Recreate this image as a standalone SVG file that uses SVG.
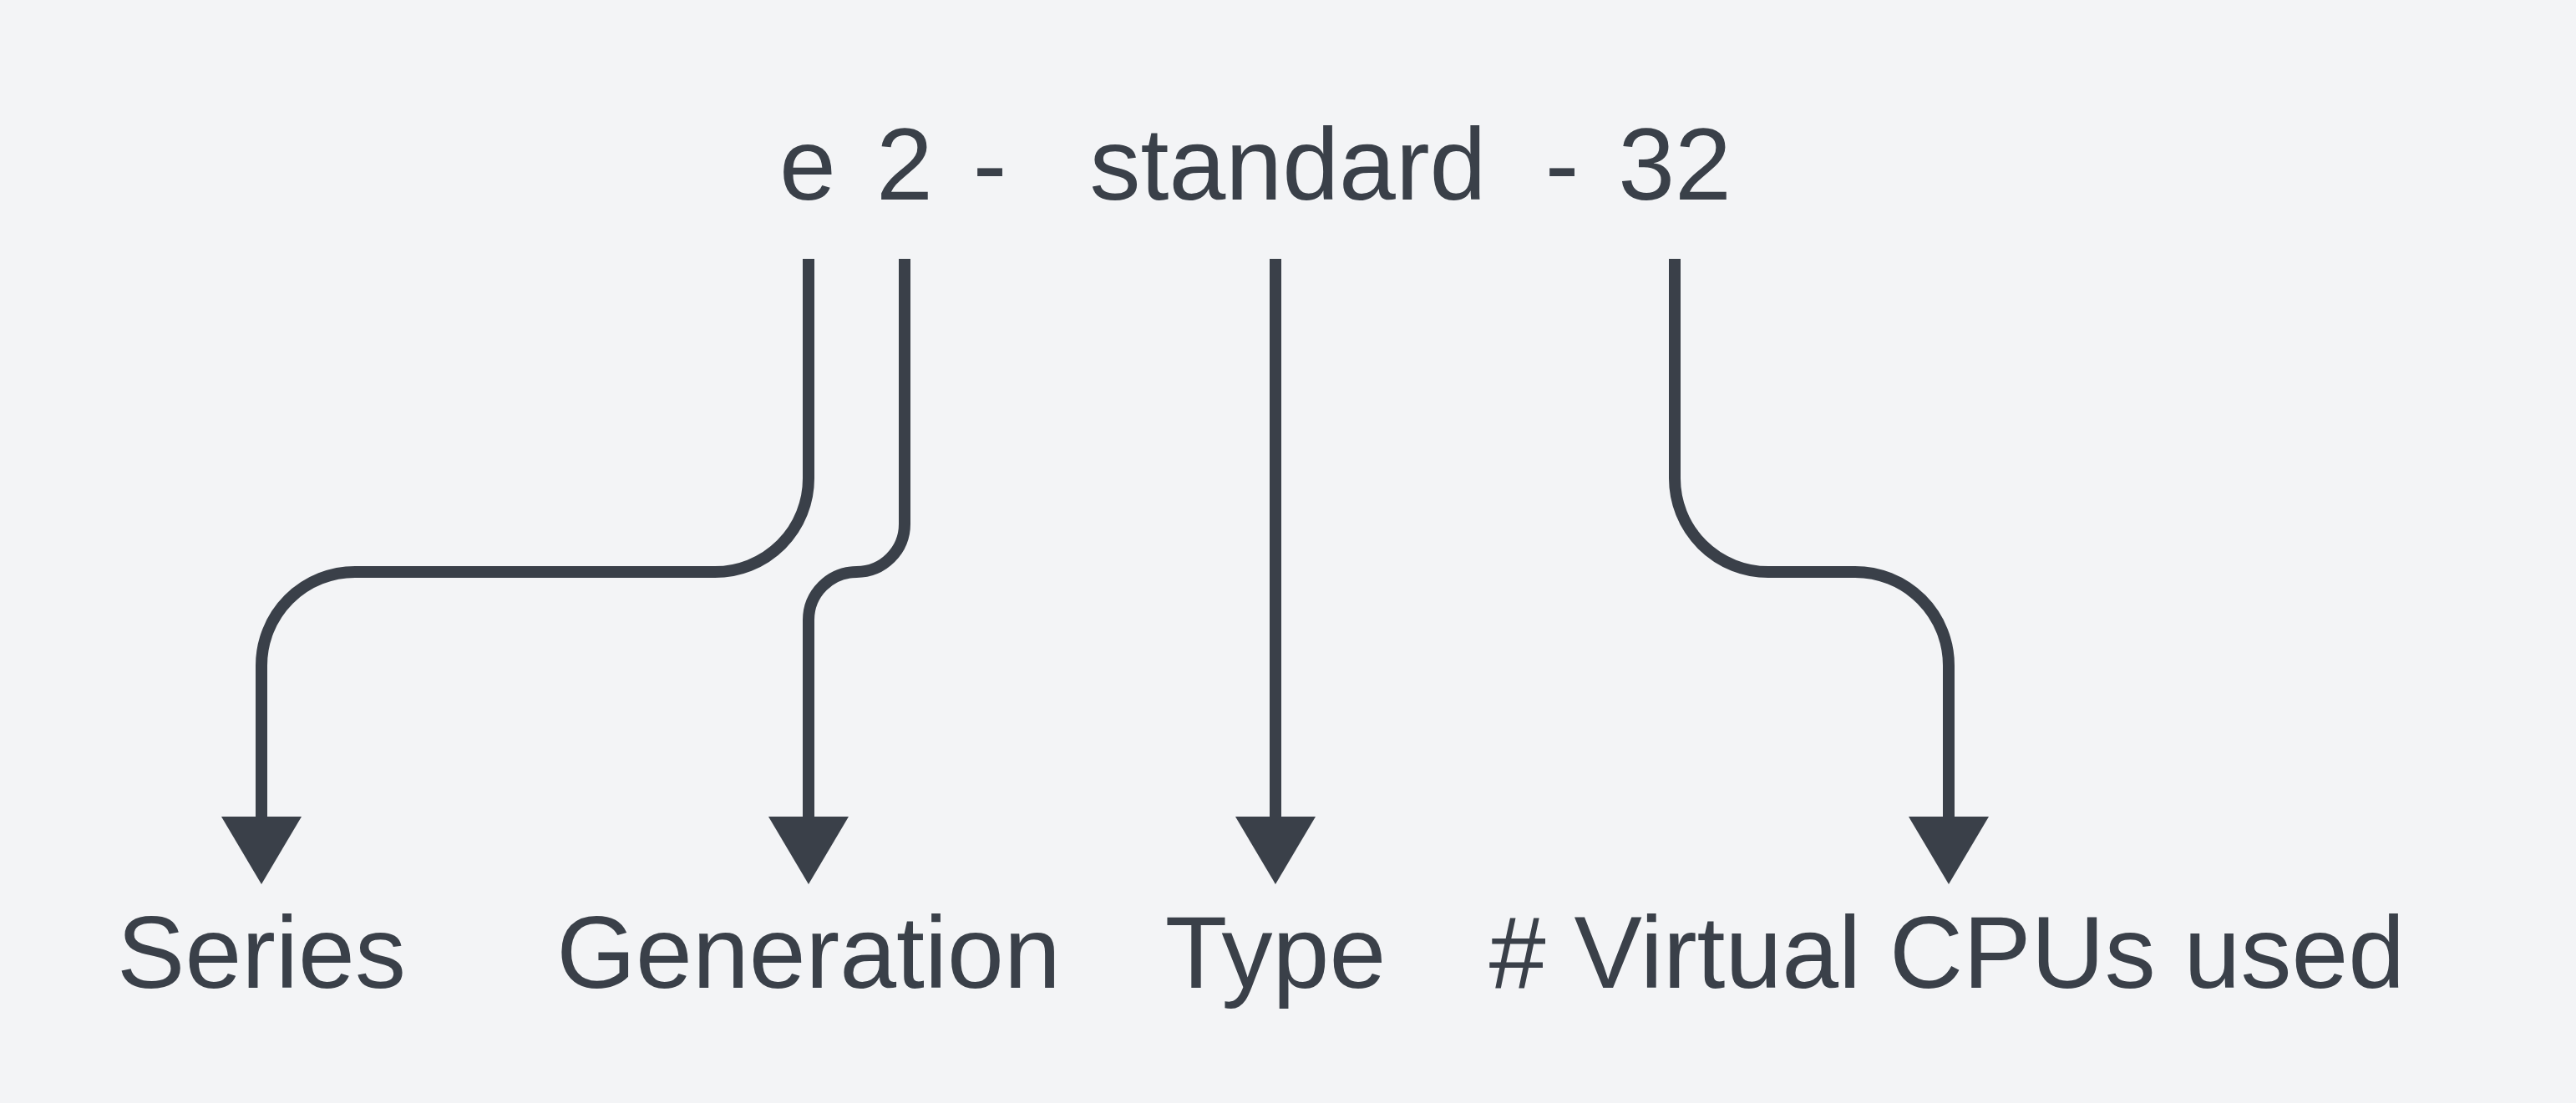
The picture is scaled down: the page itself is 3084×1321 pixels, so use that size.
<svg xmlns="http://www.w3.org/2000/svg" width="3084" height="1321" viewBox="0 0 3084 1321">
<style>
.t{font-family:"Liberation Sans",Arial,sans-serif;font-size:122px;fill:#3a4049;text-anchor:middle}
.c{fill:none;stroke:#3a4049;stroke-width:14;stroke-linecap:butt;marker-end:url(#ah)}
</style>
<defs>
<marker id="ah" viewBox="0 0 81 96" markerWidth="81" markerHeight="96" markerUnits="userSpaceOnUse" refX="0" refY="48" orient="auto">
<path d="M0,0 L81,48 L0,96 Z" fill="#3a4049"/>
</marker>
</defs>
<rect width="3084" height="1321" fill="#f3f4f6"/>
<g id="code">
<text class="t" x="967" y="239">e</text>
<text class="t" x="1083" y="239">2</text>
<text class="t" x="1185" y="239">-</text>
<text class="t" x="1542" y="239">standard</text>
<text class="t" x="1870" y="239">-</text>
<text class="t" x="2005" y="239">32</text>
</g>
<g id="connectors">
<path class="c" d="M968,310 V573 A112,112 0 0 1 856,685 H425 A112,112 0 0 0 313,797 V978"/>
<path class="c" d="M1083,310 V627.5 A57.5,57.5 0 0 1 1025.5,685 A57.5,57.5 0 0 0 968,742.5 V978"/>
<path class="c" d="M1527,310 V978"/>
<path class="c" d="M2005,310 V573 A112,112 0 0 0 2117,685 H2221 A112,112 0 0 1 2333,797 V978"/>
</g>
<g id="series"><text class="t" x="313" y="1183">Series</text></g>
<g id="generation"><text class="t" x="968" y="1183">Generation</text></g>
<g id="type"><text class="t" x="1527" y="1183">Type</text></g>
<g id="vcpus"><text class="t" x="2331" y="1183"># Virtual CPUs used</text></g>
</svg>
